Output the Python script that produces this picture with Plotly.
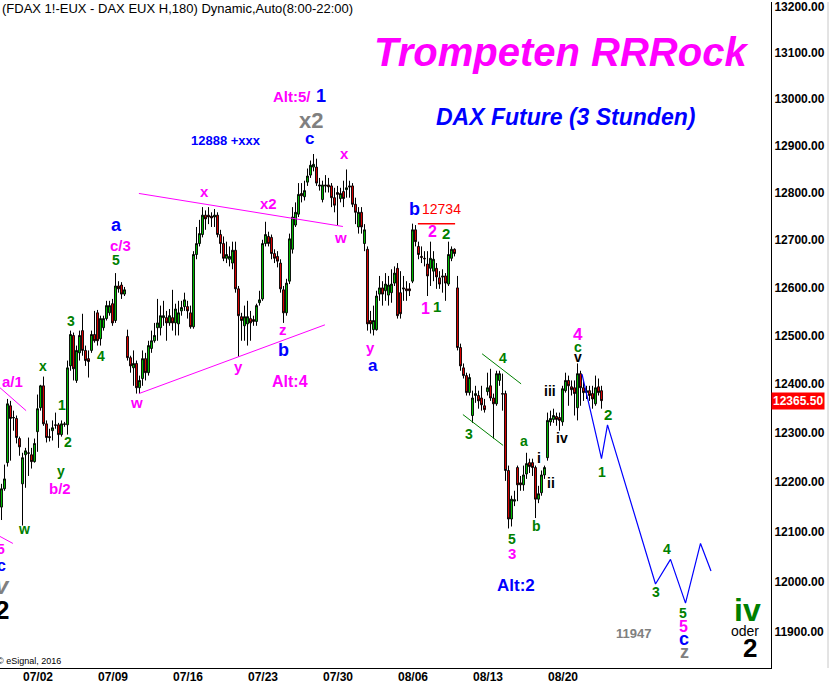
import math
import plotly.graph_objects as go

# ---------------- data (3-hour candles, index = bar number) ----------------
open_ = [
    12149, 12186, 12239, 12355, 12330, 12329, 12288, 12196, 12255, 12259,  # 0-9
    12255, 12241, 12302, 12351, 12396, 12318, 12292, 12304, 12316, 12316,  # 10-19
    12296, 12318, 12316, 12437, 12500, 12407, 12464, 12510, 12469, 12452,  # 20-29
    12469, 12502, 12547, 12493, 12516, 12535, 12547, 12566, 12531, 12603,  # 30-39
    12605, 12586, 12498, 12454, 12433, 12442, 12392, 12411, 12452, 12423,  # 40-49
    12473, 12489, 12516, 12516, 12537, 12537, 12526, 12537, 12526, 12524,  # 50-59
    12551, 12560, 12560, 12547, 12518, 12669, 12692, 12711, 12752, 12752,  # 60-69
    12750, 12748, 12752, 12711, 12692, 12661, 12659, 12651, 12678, 12597,  # 70-79
    12539, 12520, 12524, 12535, 12533, 12529, 12568, 12576, 12692, 12707,  # 80-89
    12705, 12671, 12665, 12651, 12595, 12547, 12613, 12680, 12731, 12754,  # 90-99
    12798, 12791, 12822, 12837, 12854, 12854, 12816, 12785, 12816, 12816,  # 100-109
    12814, 12789, 12800, 12787, 12802, 12806, 12814, 12814, 12775, 12727,  # 110-119
    12758, 12692, 12680, 12531, 12512, 12512, 12586, 12599, 12593, 12584,  # 120-129
    12589, 12609, 12640, 12589, 12599, 12597, 12597, 12613, 12721, 12686,  # 130-139
    12665, 12661, 12649, 12640, 12634, 12640, 12620, 12624, 12624, 12607,  # 140-149
    12661, 12680, 12599, 12475, 12433, 12417, 12382, 12335, 12376, 12376,  # 150-159
    12371, 12355, 12384, 12396, 12371, 12359, 12407, 12380, 12380, 12223,  # 160-169
    12125, 12161, 12229, 12198, 12194, 12216, 12239, 12239, 12229, 12165,  # 170-179
    12178, 12214, 12249, 12322, 12327, 12333, 12331, 12322, 12386, 12407,  # 180-189
    12394, 12392, 12351, 12421, 12392, 12382, 12386, 12380, 12359, 12394,  # 190-199
    12386,                                                                 # 200
]
high = [
    12196, 12235, 12369, 12365, 12345, 12335, 12292, 12259, 12269, 12290,
    12269, 12288, 12378, 12398, 12415, 12325, 12308, 12325, 12341, 12320,
    12325, 12322, 12448, 12510, 12506, 12479, 12510, 12545, 12479, 12469,
    12510, 12551, 12553, 12541, 12541, 12572, 12572, 12576, 12630, 12613,
    12611, 12601, 12512, 12458, 12469, 12448, 12417, 12469, 12464, 12489,
    12510, 12526, 12576, 12562, 12572, 12551, 12555, 12595, 12566, 12572,
    12572, 12589, 12572, 12562, 12676, 12727, 12742, 12769, 12762, 12769,
    12758, 12765, 12758, 12721, 12707, 12696, 12686, 12696, 12696, 12603,
    12547, 12562, 12572, 12551, 12541, 12566, 12593, 12700, 12738, 12717,
    12711, 12680, 12676, 12659, 12603, 12618, 12713, 12769, 12779, 12820,
    12820, 12825, 12851, 12868, 12882, 12872, 12831, 12825, 12837, 12831,
    12820, 12810, 12814, 12810, 12825, 12849, 12825, 12820, 12789, 12769,
    12769, 12733, 12686, 12551, 12562, 12593, 12624, 12613, 12630, 12624,
    12638, 12644, 12651, 12634, 12624, 12613, 12609, 12734, 12731, 12696,
    12686, 12676, 12676, 12696, 12676, 12651, 12634, 12638, 12630, 12696,
    12686, 12682, 12624, 12483, 12442, 12423, 12421, 12386, 12396, 12386,
    12396, 12369, 12423, 12431, 12380, 12427, 12427, 12421, 12386, 12233,
    12172, 12182, 12233, 12212, 12233, 12259, 12247, 12247, 12233, 12192,
    12223, 12233, 12341, 12345, 12349, 12341, 12341, 12396, 12423, 12417,
    12407, 12407, 12442, 12427, 12407, 12396, 12396, 12396, 12417, 12411,
    12396,
]
low = [
    12123, 12182, 12231, 12243, 12304, 12278, 12253, 12112, 12188, 12212,
    12227, 12239, 12261, 12345, 12314, 12280, 12282, 12284, 12308, 12269,
    12292, 12312, 12296, 12427, 12407, 12402, 12448, 12458, 12437, 12413,
    12464, 12485, 12479, 12479, 12510, 12531, 12541, 12520, 12526, 12589,
    12576, 12582, 12448, 12423, 12396, 12380, 12380, 12396, 12407, 12417,
    12464, 12485, 12489, 12500, 12520, 12489, 12520, 12510, 12500, 12500,
    12541, 12551, 12535, 12514, 12514, 12659, 12686, 12705, 12721, 12733,
    12727, 12727, 12705, 12671, 12655, 12651, 12644, 12638, 12589, 12456,
    12489, 12489, 12479, 12489, 12520, 12520, 12562, 12572, 12686, 12686,
    12659, 12651, 12642, 12589, 12526, 12541, 12607, 12671, 12727, 12748,
    12779, 12783, 12814, 12831, 12845, 12814, 12804, 12779, 12800, 12800,
    12769, 12758, 12731, 12779, 12769, 12789, 12789, 12769, 12733, 12713,
    12713, 12676, 12510, 12504, 12500, 12510, 12572, 12562, 12572, 12562,
    12568, 12603, 12535, 12535, 12572, 12572, 12582, 12609, 12686, 12659,
    12651, 12644, 12582, 12603, 12613, 12597, 12597, 12589, 12572, 12603,
    12655, 12665, 12469, 12427, 12411, 12376, 12376, 12320, 12361, 12349,
    12345, 12341, 12376, 12365, 12288, 12355, 12396, 12345, 12202, 12106,
    12110, 12151, 12161, 12182, 12182, 12206, 12218, 12212, 12127, 12157,
    12172, 12206, 12243, 12314, 12320, 12314, 12304, 12314, 12382, 12355,
    12376, 12335, 12325, 12355, 12365, 12369, 12365, 12349, 12355, 12376,
    12349,
]
close = [
    12186, 12206, 12359, 12329, 12331, 12290, 12271, 12249, 12263, 12258,
    12241, 12278, 12349, 12396, 12318, 12290, 12290, 12310, 12315, 12296,
    12318, 12317, 12433, 12502, 12431, 12469, 12500, 12469, 12448, 12446,
    12502, 12489, 12489, 12535, 12535, 12562, 12562, 12526, 12603, 12597,
    12586, 12595, 12454, 12437, 12442, 12392, 12407, 12452, 12423, 12479,
    12489, 12500, 12526, 12541, 12541, 12526, 12541, 12526, 12555, 12547,
    12558, 12574, 12551, 12518, 12669, 12692, 12713, 12752, 12744, 12748,
    12746, 12752, 12711, 12692, 12661, 12669, 12665, 12678, 12597, 12541,
    12531, 12539, 12539, 12526, 12529, 12562, 12574, 12692, 12711, 12692,
    12671, 12661, 12655, 12597, 12547, 12609, 12702, 12748, 12758, 12796,
    12793, 12804, 12835, 12858, 12860, 12820, 12814, 12816, 12814, 12812,
    12789, 12773, 12796, 12798, 12787, 12810, 12812, 12775, 12758, 12758,
    12727, 12721, 12524, 12524, 12531, 12582, 12599, 12586, 12607, 12605,
    12607, 12630, 12541, 12545, 12597, 12593, 12593, 12721, 12696, 12669,
    12663, 12660, 12624, 12661, 12659, 12622, 12607, 12622, 12609, 12669,
    12680, 12671, 12475, 12437, 12417, 12382, 12413, 12371, 12380, 12365,
    12357, 12347, 12392, 12371, 12359, 12421, 12421, 12379, 12223, 12125,
    12165, 12164, 12194, 12194, 12214, 12237, 12231, 12229, 12165, 12176,
    12214, 12229, 12325, 12329, 12335, 12327, 12325, 12390, 12407, 12396,
    12388, 12380, 12421, 12392, 12382, 12386, 12376, 12369, 12392, 12382,
    12365.5,
]
bars = list(range(len(open_)))

week_ticks = [12, 37, 62, 87, 112, 137, 162, 187]
week_labels = ["07/02", "07/09", "07/16", "07/23", "07/30", "08/06", "08/13", "08/20"]
price_ticks = list(range(11900, 13300, 100))
price_labels = [f"{v:.2f}" for v in price_ticks]
last_price = 12365.50

# projected path (blue)
proj_x = [193.5, 200, 202, 218, 223, 228, 233, 236.5]
proj_y = [12420, 12247, 12316, 11995, 12044, 11957, 12076, 12021]

# trend lines
upper_x, upper_y = [45.8, 113.8], [12798, 12728]
lower_x, lower_y = [45.8, 107.8], [12380, 12522]
left1_x, left1_y = [-0.5, 8.2], [12392, 12345]
left2_x, left2_y = [-0.5, 3.8], [12090, 12076]
gup_x, gup_y = [160.2, 173.2], [12462, 12400]
glo_x, glo_y = [153.8, 167.2], [12337, 12274]
res_x, res_y = [138.8, 151.2], [12734, 12734]

# ---------------- figure ----------------
W, H = 830, 686
ML, MR, MT, MB = 0, 59, 0, 18
PW, PH = W - ML - MR, H - MT - MB
FONT = "Arial, Liberation Sans, sans-serif"

fig = go.Figure()
fig.add_trace(go.Candlestick(
    x=bars, open=open_, high=high, low=low, close=close,
    increasing=dict(fillcolor="#00dd00", line=dict(color="black", width=1)),
    decreasing=dict(fillcolor="#ff0000", line=dict(color="black", width=1)),
    whiskerwidth=0, hoverinfo="skip", showlegend=False,
))

def add_line(xs, ys, color, width=1, dash="solid"):
    fig.add_trace(go.Scatter(x=xs, y=ys, mode="lines",
                             line=dict(color=color, width=width, dash=dash),
                             hoverinfo="skip", showlegend=False))

add_line(upper_x, upper_y, "#ff00ff")
add_line(lower_x, lower_y, "#ff00ff")
add_line(left1_x, left1_y, "#ff00ff")
add_line(left2_x, left2_y, "#ff00ff")
add_line(gup_x, gup_y, "#008000")
add_line(glo_x, glo_y, "#008000")
add_line(res_x, res_y, "#ff0000", 1.5)
add_line(proj_x, proj_y, "#0000ff", 1.2)

M, B, G, K, GR, R = "#ff00ff", "#0000ff", "#008000", "#000000", "#808080", "#ff0000"
labels = [
    ("Trompeten RRRock", 561, 50, M, 40, "bi"),
    ("DAX Future (3 Stunden)", 565, 115, B, 23, "bi"),
    ("12888 +xxx", 226, 139, B, 13, "b"),
    ("Alt:5/", 292, 95, M, 15, "b"),
    ("1", 321, 94, B, 18, "b"),
    ("x2", 311, 119, GR, 22, "b"),
    ("c", 309, 137, B, 17, "b"),
    ("x", 344, 152, M, 15, "b"),
    ("x", 204, 190, M, 15, "b"),
    ("x2", 268, 202, M, 15, "b"),
    ("w", 340, 236, M, 15, "b"),
    ("b", 414, 208, B, 18, "b"),
    ("12734", 442, 208, R, 14, ""),
    ("2", 432, 230, M, 16, "b"),
    ("2", 446, 232, G, 15, "b"),
    ("1", 425, 307, M, 16, "b"),
    ("1", 437, 305, G, 15, "b"),
    ("a", 117, 224, B, 18, "b"),
    ("c/3", 120, 244, M, 15, "b"),
    ("5", 116, 259, G, 14, "b"),
    ("3", 71, 320, G, 14, "b"),
    ("4", 101, 355, G, 14, "b"),
    ("x", 43, 365, G, 14, "b"),
    ("a/1", 12, 381, M, 15, "b"),
    ("1", 62, 404, G, 14, "b"),
    ("2", 68, 441, G, 14, "b"),
    ("y", 61, 470, G, 14, "b"),
    ("b/2", 60, 488, M, 15, "b"),
    ("w", 24, 529, G, 14, "b"),
    ("5", 1, 549, M, 14, "b"),
    ("c", 1, 565, B, 16, "b"),
    ("v", 2, 585, GR, 24, "bi"),
    ("2", 2, 610, K, 26, "b"),
    ("w", 136, 402, M, 15, "b"),
    ("y", 238, 366, M, 15, "b"),
    ("z", 283, 328, M, 15, "b"),
    ("b", 283, 349, B, 18, "b"),
    ("Alt:4", 290, 381, M, 16, "b"),
    ("y", 370, 347, M, 15, "b"),
    ("a", 373, 365, B, 17, "b"),
    ("4", 503, 357, G, 14, "b"),
    ("3", 469, 433, G, 14, "b"),
    ("5", 512, 539, G, 14, "b"),
    ("3", 512, 553, M, 15, "b"),
    ("a", 524, 440, G, 14, "b"),
    ("b", 536, 526, G, 14, "b"),
    ("i", 539, 457, K, 14, "b"),
    ("ii", 551, 482, K, 14, "b"),
    ("iii", 550, 390, K, 14, "b"),
    ("iv", 562, 437, K, 14, "b"),
    ("4", 578, 333, M, 17, "b"),
    ("c", 578, 346, G, 14, "b"),
    ("v", 578, 356, K, 14, "b"),
    ("2", 608, 414, G, 15, "b"),
    ("1", 602, 471, G, 14, "b"),
    ("Alt:2", 516, 585, B, 17, "b"),
    ("3", 656, 592, G, 14, "b"),
    ("4", 667, 549, G, 14, "b"),
    ("5", 683, 613, G, 14, "b"),
    ("5", 683, 626, M, 16, "b"),
    ("c", 684, 639, B, 18, "b"),
    ("z", 684, 652, GR, 18, "b"),
    ("11947", 633, 633, GR, 13, "b"),
    ("iv", 747, 610, G, 32, "b"),
    ("oder", 745, 631, K, 14, ""),
    ("2", 750, 648, K, 26, "b"),
    ("© eSignal, 2016", 29, 661, K, 9, ""),
]

anns = []
for text, px, py, color, size, style in labels:
    t = text
    if "i" in style:
        t = f"<i>{t}</i>"
    if "b" in style:
        t = f"<b>{t}</b>"
    anns.append(dict(text=t, x=px / PW, y=1 - py / PH, xref="paper", yref="paper",
                     xanchor="center", yanchor="middle", showarrow=False,
                     font=dict(family=FONT, size=size, color=color)))

# date labels below the axis
for tv, tl in zip(week_ticks, week_labels):
    anns.append(dict(text=f"<b>{tl}</b>", x=tv, y=1 - 677 / PH, xref="x", yref="paper",
                     xanchor="center", yanchor="middle", showarrow=False,
                     font=dict(family=FONT, size=12, color="black")))

anns.append(dict(text="(FDAX 1!-EUX - DAX EUX H,180) Dynamic,Auto(8:00-22:00)",
                 x=0, y=1 - 7 / PH, xref="paper", yref="paper",
                 xanchor="left", yanchor="middle", showarrow=False,
                 font=dict(family=FONT, size=13, color="black")))
anns.append(dict(text=f"<b>{last_price:.2f}</b>", x=1, y=math.log10(last_price),
                 xref="paper", yref="y", xanchor="left", yanchor="middle",
                 showarrow=False, bgcolor="#ff0000", borderpad=1,
                 font=dict(family=FONT, size=12, color="white")))

fig.update_layout(
    width=W, height=H, margin=dict(l=ML, r=MR, t=MT, b=MB),
    paper_bgcolor="white", plot_bgcolor="white",
    annotations=anns, boxgap=0.12,
    xaxis=dict(range=[-0.5, 256.5], rangeslider=dict(visible=False),
               showticklabels=False, showgrid=False,
               zeroline=False, showline=True, linecolor="black", linewidth=1,
               ticks=""),
    yaxis=dict(type="log", range=[math.log10(11829), math.log10(13211)], side="right",
               tickvals=price_ticks, ticktext=price_labels, showgrid=False,
               zeroline=False, showline=True, linecolor="black", linewidth=1,
               ticks="", ticklabeloverflow="allow",
               tickfont=dict(family=FONT, size=12, color="black", weight="bold")),
    shapes=[dict(type="line", xref="paper", yref="paper", x0=828 / PW, x1=828 / PW,
                 y0=0, y1=1, line=dict(color="#c8c8c8", width=1))],
    showlegend=False,
)

fig.write_html("out.html", config={"displayModeBar": False},
               post_script="document.body.style.margin='0px';")
